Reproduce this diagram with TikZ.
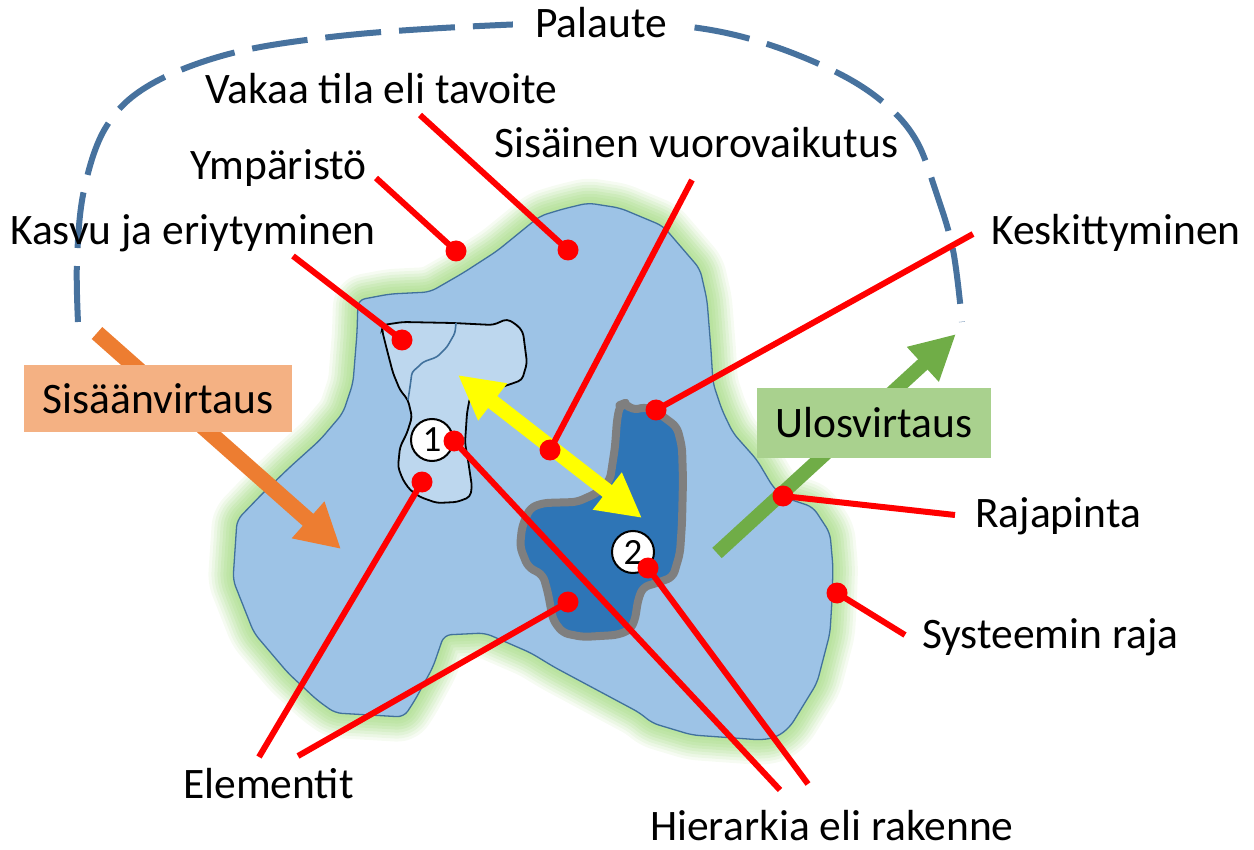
\documentclass[tikz,border=0pt]{standalone}
\usepackage{fontspec}
\setmainfont{Carlito}
\usetikzlibrary{arrows.meta}
\definecolor{blobfill}{RGB}{157,195,230}
\definecolor{blobline}{RGB}{65,113,156}
\definecolor{glowgreen}{RGB}{178,224,150}
\definecolor{lightel}{RGB}{189,215,238}
\definecolor{darkel}{RGB}{46,117,182}
\definecolor{grayrim}{RGB}{127,127,127}
\definecolor{orangearr}{RGB}{237,125,49}
\definecolor{orangebox}{RGB}{244,177,131}
\definecolor{greenarr}{RGB}{112,173,71}
\definecolor{greenbox}{RGB}{169,209,142}
\definecolor{dashblue}{RGB}{71,114,158}
\definecolor{pinred}{RGB}{255,0,0}
\definecolor{arrowyellow}{RGB}{255,255,0}
\begin{document}
\begin{tikzpicture}[x=1pt,y=-1pt,
  lbl/.style={anchor=base west, inner sep=0pt, font=\fontsize{43.5}{50}\selectfont},
  redln/.style={draw=pinred, line width=6pt},
  reddot/.style={circle, fill=pinred, minimum size=21pt, inner sep=0pt},
  numcirc/.style={circle, draw=black, line width=2pt, fill=white, minimum size=42pt, inner sep=0pt, font=\fontsize{37}{37}\selectfont},
  flowbox/.style={inner sep=0pt, font=\fontsize{43.5}{50}\selectfont},
  flowarrow/.style={line width=16pt, -{Triangle[length=44pt,width=46pt]}},
]
\useasboundingbox (0,0) rectangle (1254,850);

% feedback dashed curve
\draw[dashblue, line width=6pt, dash pattern=on 56pt off 18pt]
  plot[smooth, tension=0.6] coordinates {(78,322) (77,260) (84,190) (106,127) (148,86) (225,55) (322,38) (442,28) (600,22) (691,27) (764,43) (836,72) (884,103) (916,140) (936,192) (953,250) (962,322)};
\node[lbl, inner xsep=22pt, inner ysep=8pt, fill=white] (palaute) at (513,38) {Palaute};

% system blob
\path[save path=\blobp, rounded corners=7pt]
  (588,203) -- (620,208) -- (663,226) -- (700,269) -- (707,300) -- (711,350) -- (713,383) -- (722,410) -- (733,433) -- (757,460) -- (773,487) -- (783,497) -- (813,507) -- (830,533) -- (833,567) -- (832,600) -- (830,633) -- (817,683) -- (790,727) -- (777,737) -- (762,740) -- (692,735) -- (652,723) -- (640,713) -- (554,667) -- (531,653) -- (485,633) -- (444,635) -- (433,667) -- (415,700) -- (404,717) -- (335,713) -- (317,700) -- (288,673) -- (254,633) -- (233,580) -- (237,520) -- (263,493) -- (290,467) -- (320,440) -- (343,413) -- (353,383) -- (357,333) -- (358,300) -- (390,294) -- (430,292) -- (463,273) -- (497,251) -- (540,216) -- (563,209) -- cycle;
\foreach \w/\o in {50/0.12, 44/0.15, 38/0.18, 32/0.22, 26/0.26, 20/0.3, 14/0.35, 8/0.4} {
  \draw[glowgreen, line width=\w pt, opacity=\o, line join=round, use path=\blobp];
}
\fill[blobfill, use path=\blobp];
\draw[blobline, line width=1.3pt, use path=\blobp];

% element 1 (light)
\draw[fill=lightel, draw=black, line width=1.8pt, rounded corners=4pt]
  (383,325) -- (403,322) -- (453,323) -- (493,325) -- (507,319) -- (517,325) -- (523,332) -- (527,363) -- (522,380) -- (508,385) -- (470,397) -- (467,413) -- (465,443) -- (468,460) -- (472,487) -- (470,497) -- (457,502) -- (437,503) -- (420,497) -- (410,490) -- (403,480) -- (398,467) -- (400,447) -- (407,433) -- (412,417) -- (408,400) -- (400,390) -- (393,373) -- (387,350) -- (382,330) -- cycle;
\draw[blobline, line width=1.6pt, rounded corners=3pt]
  (456,323) -- (455,333) -- (447,347) -- (437,357) -- (423,362) -- (418,367) -- (412,372) -- (410,387) -- (408,400);

% element 2 (dark)
\draw[fill=darkel, draw=grayrim, line width=8pt, rounded corners=6pt, line join=round]
  (620,405) -- (625,403) -- (632,410) -- (647,407) -- (657,412) -- (677,427) -- (682,447) -- (683,480) -- (682,523) -- (680,553) -- (673,577) -- (657,583) -- (643,587) -- (638,600) -- (635,620) -- (630,630) -- (617,635) -- (583,637) -- (563,633) -- (553,620) -- (548,593) -- (543,575) -- (528,567) -- (520,547) -- (522,527) -- (530,508) -- (543,503) -- (577,502) -- (597,493) -- (610,480) -- (615,447) -- (617,420) -- cycle;

% number circles
\node[numcirc] (c1) at (432,440) {1};
\node[numcirc] (c2) at (633,552) {2};

% flow arrows
\coordinate (in-t) at (97,333);
\coordinate (in-h) at (341,549);
\draw[flowarrow, orangearr] (in-t) -- (in-h);
\coordinate (out-t) at (717,553);
\coordinate (out-h) at (956,334);
\draw[line width=14pt, greenarr, -{Triangle[length=45pt,width=44pt]}] (out-t) -- (out-h);
\coordinate (ya) at (458,375);
\coordinate (yb) at (642,518);
\draw[line width=15pt, arrowyellow, {Triangle[length=44pt,width=44pt]}-{Triangle[length=44pt,width=44pt]}] (ya) -- (yb);

% flow boxes
\node[flowbox, fill=orangebox, minimum width=268pt, minimum height=67pt] (inbox) at (158,398.5) {Sisäänvirtaus};
\node[flowbox, fill=greenbox, minimum width=234pt, minimum height=70pt] (outbox) at (874,423) {Ulosvirtaus};

% labels
\node[lbl] (vakaa) at (205,104) {Vakaa tila eli tavoite};
\node[lbl] (sisainen) at (494,158) {Sisäinen vuorovaikutus};
\node[lbl] (ymp) at (190,180) {Ympäristö};
\node[lbl] (kasvu) at (10,245) {Kasvu ja eriytyminen};
\node[lbl] (kesk) at (991,245) {Keskittyminen};
\node[lbl] (raja) at (975,527) {Rajapinta};
\node[lbl] (syst) at (922,648) {Systeemin raja};
\node[lbl] (elem) at (183,798) {Elementit};
\node[lbl] (hier) at (650,840) {Hierarkia eli rakenne};

% pointer lines free ends
\coordinate (e-vakaa) at (420,115);
\coordinate (e-ymp) at (376,178);
\coordinate (e-kasvu) at (293,256);
\coordinate (e-sis) at (692,180);
\coordinate (e-kesk) at (973,234);
\coordinate (e-raja) at (955,515);
\coordinate (e-syst) at (905,635);
\coordinate (e-el1) at (259,757);
\coordinate (e-el2) at (298,756);
\coordinate (e-hier1) at (780,790);
\coordinate (e-hier2) at (808,784);

% pointer dots
\node[reddot] (d-vakaa) at (568,250) {};
\node[reddot] (d-ymp) at (456,251) {};
\node[reddot] (d-kasvu) at (402,340) {};
\node[reddot] (d-sis) at (550,450) {};
\node[reddot] (d-kesk) at (656,410) {};
\node[reddot] (d-raja) at (783,496) {};
\node[reddot] (d-syst) at (837,593) {};
\node[reddot] (d-el1) at (422,482) {};
\node[reddot] (d-el2) at (568,602) {};
\node[reddot] (d-hier1) at (454,441) {};
\node[reddot] (d-hier2) at (648,568) {};

\draw[redln] (e-vakaa) -- (d-vakaa.center);
\draw[redln] (e-ymp) -- (d-ymp.center);
\draw[redln] (e-kasvu) -- (d-kasvu.center);
\draw[redln] (e-sis) -- (d-sis.center);
\draw[redln] (e-kesk) -- (d-kesk.center);
\draw[redln] (e-raja) -- (d-raja.center);
\draw[redln] (e-syst) -- (d-syst.center);
\draw[redln] (e-el1) -- (d-el1.center);
\draw[redln] (e-el2) -- (d-el2.center);
\draw[redln] (e-hier1) -- (d-hier1.center);
\draw[redln] (e-hier2) -- (d-hier2.center);
\end{tikzpicture}
\end{document}
